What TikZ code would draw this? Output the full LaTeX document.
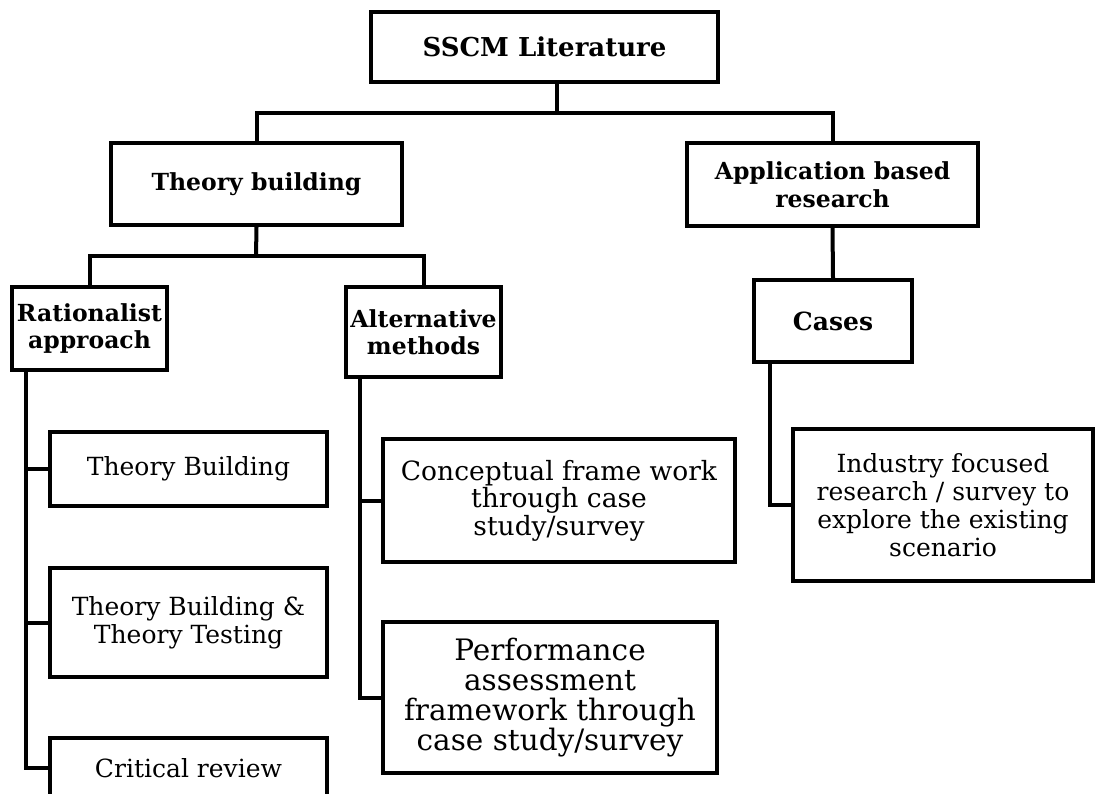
\documentclass[tikz,border=0pt]{standalone}
\usepackage{fontspec}
\setmainfont{DejaVu Serif}
\usepackage{tikz}
\usetikzlibrary{positioning,calc}

\begin{document}
\begin{tikzpicture}[x=1pt,y=-1pt,
	box/.style={draw,line width=4pt,align=center,inner sep=0pt},
	head/.style={box,font=\bfseries\fontsize{23.5}{27.5}\selectfont},
	leaf/.style={box,font=\fontsize{25}{28}\selectfont},
	link/.style={line width=4pt}]
	
	\useasboundingbox (0,0) rectangle (1099,794);
	
	% top levels
	\node[head,font=\bfseries\fontsize{26}{28}\selectfont,minimum width=347pt,minimum height=70pt] (lit) at (544.5,47) {SSCM Literature};
	\node[head,minimum width=291pt,minimum height=82pt] (tb) at (256.5,184) {Theory building};
	\node[head,minimum width=291pt,minimum height=83pt] (app) at (832.5,184.5) {Application based\\research};
	
	\node[head,minimum width=155pt,minimum height=83pt] (ra) at (89.5,328.5) {Rationalist\\approach};
	\node[head,minimum width=155pt,minimum height=90pt] (am) at (423.5,332) {Alternative\\methods};
	\node[head,font=\bfseries\fontsize{25}{28}\selectfont,minimum width=158pt,minimum height=82pt] (cases) at (833,321) {Cases};
	
	% leaves
	\node[leaf,minimum width=277pt,minimum height=74pt] (tbs) at (188.5,469) {Theory Building};
	\node[leaf,minimum width=277pt,minimum height=109pt] (tbt) at (188.5,622.5) {Theory Building \&\\Theory Testing};
	\node[leaf,minimum width=277pt,minimum height=60pt] (crit) at (188.5,768) {Critical review};
	
	\node[leaf,font=\fontsize{26.5}{27.5}\selectfont,minimum width=352pt,minimum height=123pt] (conc) at (559,500.5) {Conceptual frame work\\through case\\study/survey};
	\node[leaf,font=\fontsize{29.5}{30}\selectfont,minimum width=334pt,minimum height=151pt] (perf) at (550,697.5) {Performance\\assessment\\framework through\\case study/survey};
	
	\node[leaf,minimum width=300pt,minimum height=152pt] (ind) at (943,505) {Industry focused\\research / survey to\\explore the existing\\scenario};
	
	% connectors
	\coordinate (bus0) at (557,113);
	\coordinate (bus1) at (256,256);
	\draw[link] ([xshift=12.5pt]lit.south) -- (bus0);
	\draw[link] (tb.north) |- (bus0) -| (app.north);
	\draw[link] (tb.south) -- (bus1);
	\draw[link] (ra.north) |- (bus1) -| (am.north);
	\draw[link] (app.south) -- (cases.north);
	
	\coordinate (raT) at (26,370);
	\coordinate (amT) at (360,377);
	\coordinate (caT) at (770,362);
	\draw[link] (raT) |- (tbs.west);
	\draw[link] (raT) |- (tbt.west);
	\draw[link] (raT) |- (crit.west);
	\draw[link] (amT) |- (conc.west);
	\draw[link] (amT) |- (perf.west);
	\draw[link] (caT) |- (ind.west);
	
\end{tikzpicture}
\end{document}
